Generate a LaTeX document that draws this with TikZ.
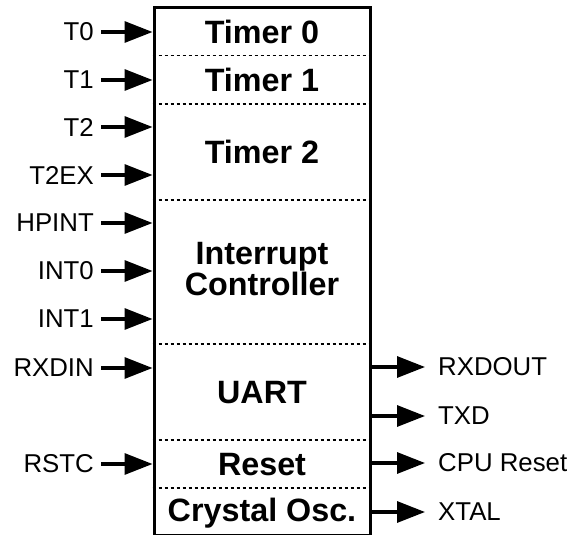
\documentclass[tikz,border=0pt]{standalone}
\usepackage{fontspec}
\setmainfont{Liberation Sans}
\usetikzlibrary{arrows.meta}

\begin{document}
\begin{tikzpicture}[
  x=1pt, y=-1pt,
  sig/.style={line width=3.2pt, -{Triangle[length=28pt,width=21pt]}},
  pinin/.style={anchor=east, inner xsep=7pt, inner ysep=0pt, font=\fontsize{25.8}{28}\selectfont},
  pinout/.style={anchor=west, inner xsep=13pt, inner ysep=0pt, font=\fontsize{25.8}{28}\selectfont},
  block/.style={font=\fontsize{32.3}{29}\selectfont\bfseries, align=center, text depth=0pt, inner sep=0pt},
  divider/.style={line width=1.5pt, dash pattern=on 3.5pt off 2.5pt},
]
\useasboundingbox (0,0) rectangle (571,535);

% --- Chip outline ---------------------------------------------------
\node[draw, line width=3pt, minimum width=216pt, minimum height=528pt, inner sep=0pt] (chip) at (262,271.5) {};

% Section dividers
\foreach \y/\d in {55.5/d1, 104/d2, 200/d3, 344/d4, 440/d5, 488/d6} {
  \coordinate (\d) at (0,\y);
  \draw[divider] (chip.west |- \d) -- (chip.east |- \d);
}

% Section titles
\node[block] (timer0) at (262,31.5) {Timer 0};
\node[block] (timer1) at (262,80) {Timer 1};
\node[block] (timer2) at (262,152) {Timer 2};
\node[block] (intctl) at (262,269) {Interrupt\\Controller};
\node[block] (uart)   at (262,392) {UART};
\node[block] (reset)  at (262,464) {Reset};
\node[block] (xosc)   at (262,510) {Crystal Osc.};

% --- Input pins -----------------------------------------------------
\foreach \y/\pin/\txt in {32/t0/T0, 80/t1/T1, 127/t2/T2, 175/t2ex/T2EX, 223/hpint/HPINT,
                          271/int0/INT0, 319/int1/INT1, 368/rxdin/RXDIN, 464/rstc/RSTC} {
  \node[pinin] (in-\pin) at (101,\y) {\txt};
  \draw[sig] (in-\pin.east) -- (in-\pin -| chip.west);
}

% --- Output pins ----------------------------------------------------
\foreach \y/\pin/\txt in {367/rxdout/RXDOUT, 416/txd/TXD, 463/cpurst/CPU Reset, 512/xtal/XTAL} {
  \node[pinout] (out-\pin) at (425,\y) {\txt};
  \draw[sig] (out-\pin -| chip.east) -- (out-\pin.west);
}
\end{tikzpicture}
\end{document}
